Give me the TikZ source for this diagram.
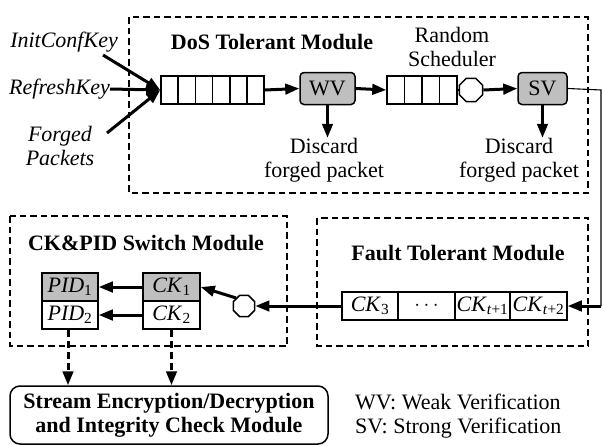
\documentclass[tikz,border=0pt]{standalone}
\usepackage{fontspec}
\setmainfont{Liberation Serif}
\usetikzlibrary{arrows.meta,shapes.geometric,positioning}
\begin{document}
\begin{tikzpicture}[x=1pt,y=-1pt,
  font=\fontsize{22}{24}\selectfont,
  dbox/.style={draw,line width=2.4pt,dash pattern=on 6.5pt off 4pt},
  cell/.style={draw,line width=1.5pt,minimum height=28pt,inner sep=0pt},
  gbox/.style={draw,line width=1.5pt,rounded corners=4pt,fill=black!25,inner sep=0pt},
  oct/.style={draw,line width=1.5pt,regular polygon,regular polygon sides=8,minimum size=26pt,inner sep=0pt,fill=white},
  arr/.style={line width=3pt,-{Triangle[length=14pt,width=10.5pt]}},
  darr/.style={line width=3pt,dash pattern=on 7pt off 4pt,-{Triangle[length=14pt,width=10.5pt]}},
  thin/.style={line width=1.1pt},
  lbl/.style={inner sep=0pt,align=center}
]
\useasboundingbox (0,0) rectangle (603,445);
% module boxes
\draw[dbox] (129,17) rectangle (588,193);
\draw[dbox] (10,216) rectangle (287,346);
\draw[dbox] (317,218) rectangle (588,346);
\node[lbl,font=\fontsize{22}{24}\selectfont\bfseries] (dost) at (272,42) {DoS Tolerant Module};
\node[lbl,font=\fontsize{22}{24}\selectfont\bfseries] (ckt) at (146,243) {CK\&PID Switch Module};
\node[lbl,font=\fontsize{22}{24}\selectfont\bfseries] (ftt) at (458,253) {Fault Tolerant Module};
% input queue (6 cells)
\foreach \i in {0,...,5}{
  \node[cell,minimum width=17.2pt] (qa\i) at ({161+8.6+17.2*\i},90) {};
}
% WV
\node[gbox,minimum width=55pt,minimum height=32pt] (wv) at (327.5,88.5) {WV};
% queue 2 (4 cells)
\foreach \i in {0,...,3}{
  \node[cell,minimum width=17.5pt] (qb\i) at ({387+8.75+17.5*\i},90) {};
}
\node[oct,minimum size=25pt] (o1) at (471,90) {};
\node[gbox,minimum width=49pt,minimum height=32pt] (sv) at (542.5,88.5) {SV};
% labels
\node[lbl,font=\fontsize{22}{24}\selectfont\itshape,anchor=east] (ick) at (118,42) {InitConfKey};
\node[lbl,font=\fontsize{22}{24}\selectfont\itshape,anchor=east] (rk) at (110,89) {RefreshKey};
\node[lbl,font=\fontsize{22}{24}\selectfont\itshape] (fp) at (60,146) {Forged\\[0pt]Packets};
\node[lbl] (rs) at (452,47) {Random\\[0pt]Scheduler};
\node[lbl] (d1) at (324,160) {Discard\\[0pt]forged packet};
\node[lbl] (d2) at (519,160) {Discard\\[0pt]forged packet};
\coordinate (ick0) at (103,55);
\coordinate (fp0) at (107,133);
\draw[arr] (ick0) -- (qa0.west);
\draw[arr] (rk.east) -- (qa0.west);
\draw[arr] (fp0) -- (qa0.west);
\draw[arr] (qa5.east) -- (wv.west);
\draw[arr] (wv.east) -- (qb0.west);
\draw[thin] (qb3.east) -- (o1.west);
\draw[arr] (o1.east) -- (sv.west);
\draw[arr] (wv.south) -- (wv.south |- d1.north);
\draw[arr] (sv.south) -- (sv.south |- d2.north);
% fault tolerant queue
\node[cell,minimum width=56pt,minimum height=28pt] (c3) at (370,306) {\textit{CK}\textsubscript{3}};
\node[cell,minimum width=57pt,minimum height=28pt] (cd) at (426.5,306) {$\cdots$};
\node[cell,minimum width=55pt,minimum height=28pt] (ct1) at (482.5,306) {\textit{CK}\textsubscript{\textit{t}+1}};
\node[cell,minimum width=57pt,minimum height=28pt] (ct2) at (538.5,306) {\textit{CK}\textsubscript{\textit{t}+2}};
\coordinate (r1) at (601,90);
\coordinate (r2) at (601,306);
\draw[thin] (sv.east) -- (r1) -- (r2);
\draw[arr] (r2) -- (ct2.east);
% switch module
\node[cell,minimum width=56pt,minimum height=28pt,fill=black!25] (p1) at (70,287) {\textit{PID}\textsubscript{1}};
\node[cell,minimum width=56pt,minimum height=28pt] (p2) at (70,315) {\textit{PID}\textsubscript{2}};
\node[cell,minimum width=57pt,minimum height=28pt,fill=black!25] (k1) at (171.5,287) {\textit{CK}\textsubscript{1}};
\node[cell,minimum width=57pt,minimum height=28pt] (k2) at (171.5,315) {\textit{CK}\textsubscript{2}};
\node[oct,minimum size=23pt] (o2) at (244,306) {};
\draw[arr] (c3.west) -- (o2.east);
\draw[arr] (o2.north west) -- (k1.east);
\draw[arr] (k1.west) -- (p1.east);
\draw[arr] (k2.west) -- (p2.east);
% bottom module
\node[draw,line width=1.5pt,rounded corners=10pt,minimum width=318pt,minimum height=58pt,lbl,font=\fontsize{22}{24}\selectfont\bfseries] (se) at (169,415) {Stream Encryption/Decryption\\[0pt]and Integrity Check Module};
\draw[darr] (p2.south -| 68,0) -- (se.north -| 68,0);
\draw[darr] (k2.south) -- (se.north -| k2.south);
% legend
\node[lbl,anchor=west,align=left] (lg) at (355,416) {WV: Weak Verification\\[0pt]SV: Strong Verification};
\end{tikzpicture}
\end{document}
